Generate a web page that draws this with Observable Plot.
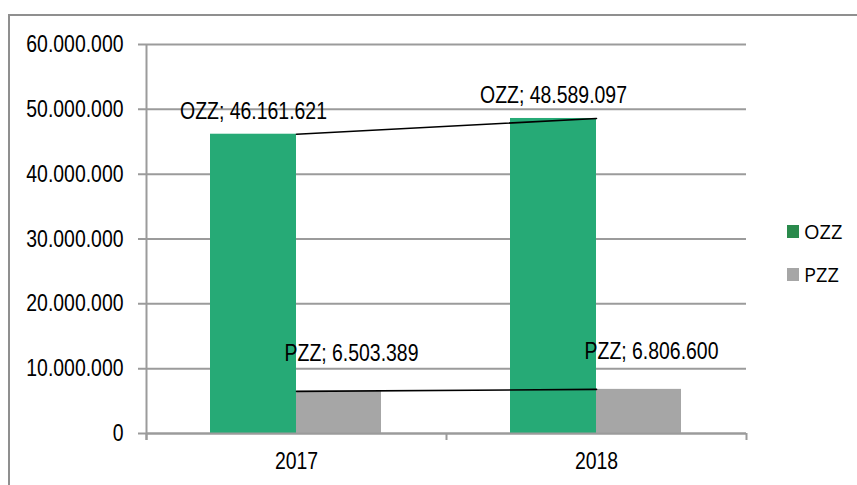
<!DOCTYPE html>
<html>
<head>
<meta charset="utf-8">
<script src="https://cdn.jsdelivr.net/npm/d3@7"></script>
<script src="https://cdn.jsdelivr.net/npm/@observablehq/plot@0.6"></script>
<style>
  html, body { margin: 0; padding: 0; background: #fff; }
  #wrap { position: relative; width: 857px; height: 485px; overflow: hidden; }
  #frame { position: absolute; left: 8px; top: 14px; right: -4px; bottom: -4px;
           border-top: 2px solid #8f8f8f; border-left: 2px solid #8f8f8f; pointer-events: none; }
  #legend { position: absolute; left: 787px; top: 210px; font-family: "Open Sans", sans-serif;
            font-size: 20px; color: #000; }
  .item { display: flex; align-items: center; height: 43px; }
  .sw { width: 12px; height: 13px; margin-right: 5px; }
</style>
</head>
<body>
<div id="wrap"><div id="frame"></div><div id="legend"></div></div>
<script>
const years = ["2017", "2018"];
const seriesNames = ["OZZ", "PZZ"];
const ozzValues = [46161621, 48589097];
const pzzValues = [6503389, 6806600];
const yTicks = [0, 10000000, 20000000, 30000000, 40000000, 50000000, 60000000];
const barColors = ["#26aa76", "#a6a6a6"];
const legendColors = ["#2a8a4c", "#a6a6a6"];

const fmt = d3.formatLocale({decimal: ",", thousands: ".", grouping: [3], currency: ["", ""]}).format(",d");

const ozz = years.map((y, i) => ({year: y, series: seriesNames[0], value: ozzValues[i]}));
const pzz = years.map((y, i) => ({year: y, series: seriesNames[1], value: pzzValues[i]}));

const font = "'Liberation Sans', Arial, sans-serif";
const fs = 23.7;
const gray = "#9b9b9b";

const chart = Plot.plot({
  width: 857,
  height: 485,
  marginLeft: 146,
  marginRight: 111,
  marginTop: 44,
  marginBottom: 52,
  style: {fontFamily: font, fontSize: fs + "px", background: "transparent", color: "#000"},
  x: {domain: years, padding: 0},
  y: {domain: [0, 60000000]},
  marks: [
    Plot.gridY(yTicks, {stroke: gray, strokeOpacity: 1, strokeWidth: 2, insetLeft: -8}),
    Plot.axisY(yTicks, {tickSize: 0, tickPadding: 23, tickFormat: fmt, fontSize: fs, label: null, fill: "#000"}),
    Plot.axisX({tickSize: 0, tickPadding: 19, fontSize: fs, label: null, fill: "#000"}),
    Plot.barY(ozz, {x: "year", y: "value", fill: barColors[0], insetLeft: 64, insetRight: 150}),
    Plot.barY(pzz, {x: "year", y: "value", fill: barColors[1], insetLeft: 150, insetRight: 65}),
    Plot.ruleY([0], {stroke: gray, strokeWidth: 2}),
    Plot.ruleX([years[0]], {x: d => d, dx: -150, y1: 60000000, y2: 0, insetBottom: -7, stroke: gray, strokeWidth: 2}),
    Plot.ruleX(years, {x: d => d, dx: -150, y1: 0, y2: 0, insetBottom: -7, stroke: gray, strokeWidth: 2}),
    Plot.ruleX([years[years.length - 1]], {x: d => d, dx: 150, y1: 0, y2: 0, insetBottom: -7, stroke: gray, strokeWidth: 2}),
    Plot.line(ozz, {x: "year", y: "value", stroke: "#000", strokeWidth: 1.6}),
    Plot.line(pzz, {x: "year", y: "value", stroke: "#000", strokeWidth: 1.6}),
    Plot.text(ozz, {x: "year", y: "value", text: d => `${d.series}; ${fmt(d.value)}`, dx: -43, dy: -23, fontSize: fs, fill: "#000"}),
    Plot.text(pzz, {x: "year", y: "value", text: d => `${d.series}; ${fmt(d.value)}`, dx: 55, dy: -38, fontSize: fs, fill: "#000"})
  ]
});
document.getElementById("wrap").insertBefore(chart, document.getElementById("frame"));
chart.style.position = "absolute";
chart.style.left = "0";
chart.style.top = "0";

// emulate a narrow (condensed) face by compressing each text horizontally
chart.querySelectorAll("text").forEach(t => {
  const len = t.getComputedTextLength();
  if (len > 0) {
    t.setAttribute("textLength", (len * 0.82).toFixed(1));
    t.setAttribute("lengthAdjust", "spacingAndGlyphs");
  }
});

const legend = document.getElementById("legend");
seriesNames.forEach((s, i) => {
  const item = document.createElement("div");
  item.className = "item";
  const sw = document.createElement("div");
  sw.className = "sw";
  sw.style.background = legendColors[i];
  const label = document.createElement("span");
  label.textContent = s;
  item.appendChild(sw);
  item.appendChild(label);
  legend.appendChild(item);
});
</script>
</body>
</html>
